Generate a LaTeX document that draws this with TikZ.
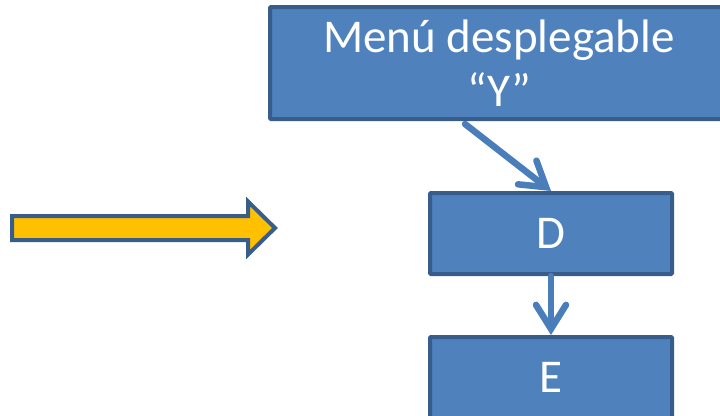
\documentclass[tikz,border=0pt]{standalone}
\usepackage{fontspec}
\setmainfont{Carlito}
\usetikzlibrary{arrows.meta, calc, positioning}

\definecolor{boxfill}{HTML}{4F81BD}
\definecolor{boxline}{HTML}{385D8A}
\definecolor{linkblue}{HTML}{4A7EBB}
\definecolor{gold}{HTML}{FFC000}

\begin{document}
\begin{tikzpicture}[x=1pt, y=-1pt, thick]
    \tikzset{
        menu_box/.style={rectangle, fill=boxfill, draw=boxline, line width=4pt,
            rounded corners=1pt, text=white, align=center, inner sep=0pt},
        big_text/.style={font=\fontsize{47}{54}\selectfont},
        link/.style={draw=linkblue, line width=6.5pt, line cap=round,
            -{Straight Barb[length=24pt, width=30pt, line cap=round]}},
        yellow_arrow/.style={fill=gold, draw=boxline, line width=4pt, line join=miter}
    }
    \useasboundingbox (0,0) rectangle (720,415);
    \clip (0,0) rectangle (720,415);

    % boxes
    \node[menu_box, big_text, minimum width=458pt, minimum height=112pt]
        (menu_y) at (499,63) {Menú desplegable\\“Y”};
    \node[menu_box, big_text, minimum width=242pt, minimum height=81pt]
        (box_d) at (551,233.5) {D};
    \node[menu_box, big_text, minimum width=242pt, minimum height=81pt]
        (box_e) at (551,377.5) {E};

    % links
    \coordinate (menu_tail) at ($(menu_y.south)+(-34,3)$);
    \draw[link] (menu_tail) -- (box_d.north);
    \draw[link] (box_d.south) -- (box_e.north);

    % block arrow on the left
    \draw[yellow_arrow] (12,216) -- (248,216) -- (248,201.5) -- (275,228)
        -- (248,254.5) -- (248,240) -- (12,240) -- cycle;
\end{tikzpicture}
\end{document}
